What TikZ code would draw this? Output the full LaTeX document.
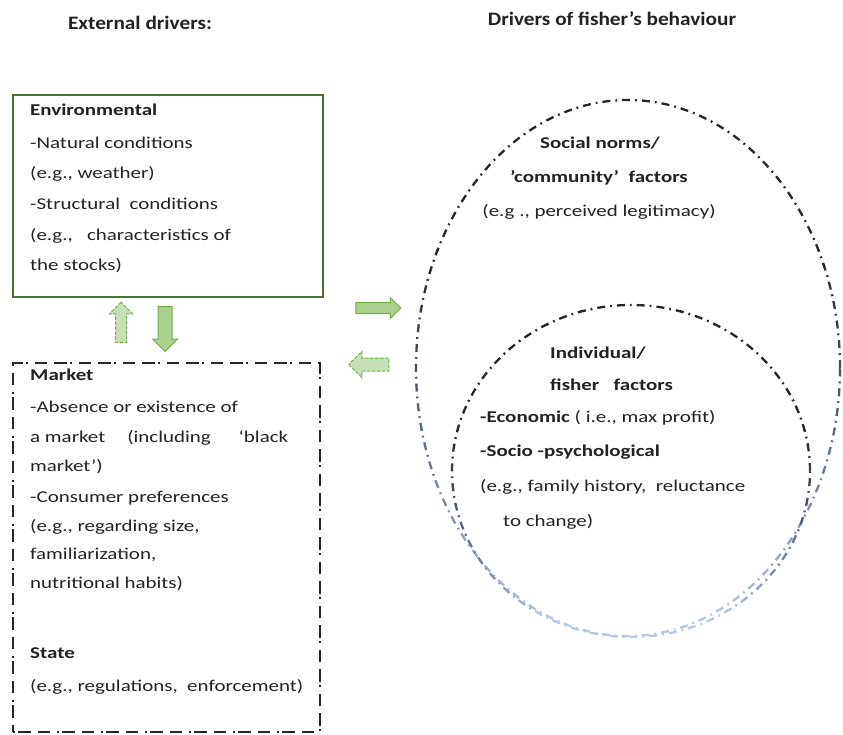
\documentclass[tikz,border=0pt]{standalone}
\usepackage{fontspec}
\setmainfont{Carlito}[FakeStretch=1.27]
\newfontfamily\ttlfont{Carlito}[FakeStretch=1.12]
\usetikzlibrary{shapes.arrows,shapes.geometric}
\definecolor{txt}{HTML}{222222}
\definecolor{envgreen}{HTML}{4A7530}
\definecolor{arrfill}{HTML}{A9D18E}
\definecolor{arrline}{HTML}{70AD47}
\definecolor{arrfilltwo}{HTML}{C5E0B4}
\definecolor{ringdark}{HTML}{262626}
\definecolor{ringmid}{HTML}{5A6A88}
\definecolor{ringlight}{HTML}{B4C7E7}
\begin{document}
\begin{tikzpicture}[x=1pt,y=-1pt,
  lbl/.style={anchor=west,inner sep=0pt,text=txt,font=\fontsize{16.5}{16.5}\selectfont},
  blbl/.style={lbl,font=\fontsize{16.5}{16.5}\selectfont\bfseries},
  clbl/.style={inner sep=0pt,text=txt,font=\fontsize{16.5}{16.5}\selectfont},
  cblbl/.style={clbl,font=\fontsize{16.5}{16.5}\selectfont\bfseries},
  ttl/.style={inner sep=0pt,text=txt,font=\ttlfont\fontsize{19}{19}\selectfont\bfseries},
  envbox/.style={draw=envgreen,line width=2.7pt,rectangle,inner sep=0pt},
  mktbox/.style={draw=black!85,line width=1.5pt,rectangle,inner sep=0pt,
     dash pattern=on 2pt off 3pt on 13pt off 7pt on 12pt off 7pt},
  solidarrow/.style={single arrow,draw=arrline,fill=arrfill,line width=1pt,
     inner xsep=0pt,single arrow head indent=0pt},
  dasharrow/.style={solidarrow,fill=arrfilltwo,dash pattern=on 3.5pt off 1.5pt},
  ring/.style={line width=2.3pt,dash pattern=on 8pt off 5pt on 1.8pt off 5pt}
]
\useasboundingbox (0,0) rectangle (843,735);

% titles
\node[ttl] (t1) at (140,23) {External drivers:};
\node[ttl] (t2) at (612,19) {Drivers of fisher’s behaviour};

% environmental box
\node[envbox,minimum width=310pt,minimum height=202pt] (env) at (168,196) {};
\node[blbl] (e1) at (30,110) {Environmental};
\node[lbl] (e2) at (30,143) {-Natural conditions};
\node[lbl] (e3) at (30,174) {(e.g., weather)};
\node[lbl] (e4) at (30,204) {-Structural\ \ conditions};
\node[lbl] (e5) at (30,236) {(e.g.,\ \ \ characteristics of};
\node[lbl] (e6) at (30,266) {the stocks)};

% market box
\node[mktbox,minimum width=307pt,minimum height=369pt] (mkt) at (166.5,547.5) {};
\node[blbl] (m1) at (30,375) {Market};
\node[lbl] (m2) at (30,407) {-Absence or existence of};
\node[lbl] (m3) at (30,438) {a market\hspace{22pt}(including\hspace{28pt}‘black};
\node[lbl] (m4) at (30,467) {market’)};
\node[lbl] (m5) at (30,498) {-Consumer preferences};
\node[lbl] (m6) at (30,527) {(e.g., regarding size,};
\node[lbl] (m7) at (30,555) {familiarization,};
\node[lbl] (m8) at (30,584) {nutritional habits)};
\node[blbl] (s1) at (30,653) {State};
\node[lbl] (s2) at (30,687) {(e.g., regulations,\ \ enforcement)};

% block arrows
\node[dasharrow,minimum height=40pt,inner ysep=5pt,single arrow head extend=6pt,rotate=90] (aup) at (121,325) {};
\node[solidarrow,minimum height=45pt,inner ysep=6.5pt,single arrow head extend=5.5pt,rotate=-90] (adown) at (165,325.5) {};
\node[solidarrow,minimum height=45pt,inner ysep=5pt,single arrow head extend=5pt] (aright) at (375.5,308) {};
\node[dasharrow,minimum height=40pt,inner ysep=6pt,single arrow head extend=6.5pt,rotate=180] (aleft) at (372,364.5) {};

% ellipses with colour fading along the stroke
\coordinate (oc) at (628,368);
\coordinate (ic) at (631,471);
\foreach \k in {0,...,23}{
  \pgfmathsetmacro{\ya}{250+\k*15}
  \pgfmathsetmacro{\yb}{\ya+15.2}
  \pgfmathsetmacro{\po}{min(100,max(0,(\ya-250)/3.6))}
  \pgfmathsetmacro{\pin}{min(100,max(0,(\ya-430)/1.9))}
  \pgfmathsetmacro{\qo}{min(100,2*\po)}
  \pgfmathsetmacro{\ro}{max(0,2*\po-100)}
  \pgfmathsetmacro{\qi}{min(100,2*\pin)}
  \pgfmathsetmacro{\ri}{max(0,2*\pin-100)}
  \colorlet{tmpo}{ringmid!\qo!ringdark}
  \colorlet{tmpi}{ringmid!\qi!ringdark}
  \begin{scope}
    \clip (400,\ya) rectangle (843,\yb);
    \draw[ring,color=ringlight!\ro!tmpo] (oc) ellipse [x radius=212pt,y radius=268pt];
    \draw[ring,color=ringlight!\ri!tmpi] (ic) ellipse [x radius=179pt,y radius=166pt];
  \end{scope}
}
\begin{scope}
  \clip (400,0) rectangle (843,250.1);
  \draw[ring,color=ringdark] (oc) ellipse [x radius=212pt,y radius=268pt];
  \draw[ring,color=ringdark] (ic) ellipse [x radius=179pt,y radius=166pt];
\end{scope}
\begin{scope}
  \clip (400,609.9) rectangle (843,735);
  \draw[ring,color=ringlight] (oc) ellipse [x radius=212pt,y radius=268pt];
  \draw[ring,color=ringlight] (ic) ellipse [x radius=179pt,y radius=166pt];
\end{scope}

% ring texts
\node[cblbl] (r1) at (600,143) {Social norms/};
\node[cblbl] (r2) at (599,178) {’community’\ \ factors};
\node[clbl] (r3) at (599,212) {(e.g\ ., perceived legitimacy)};

\node[blbl] (i1) at (550,353) {Individual/};
\node[blbl] (i2) at (550,385) {fisher\ \ \ factors};
\node[lbl] (i3) at (480,418) {\textbf{-Economic} ( i.e., max profit)};
\node[blbl] (i4) at (480,452) {-Socio -psychological};
\node[lbl] (i5) at (480,487) {(e.g., family history,\ \ reluctance};
\node[lbl] (i6) at (503,522) {to change)};
\end{tikzpicture}
\end{document}
